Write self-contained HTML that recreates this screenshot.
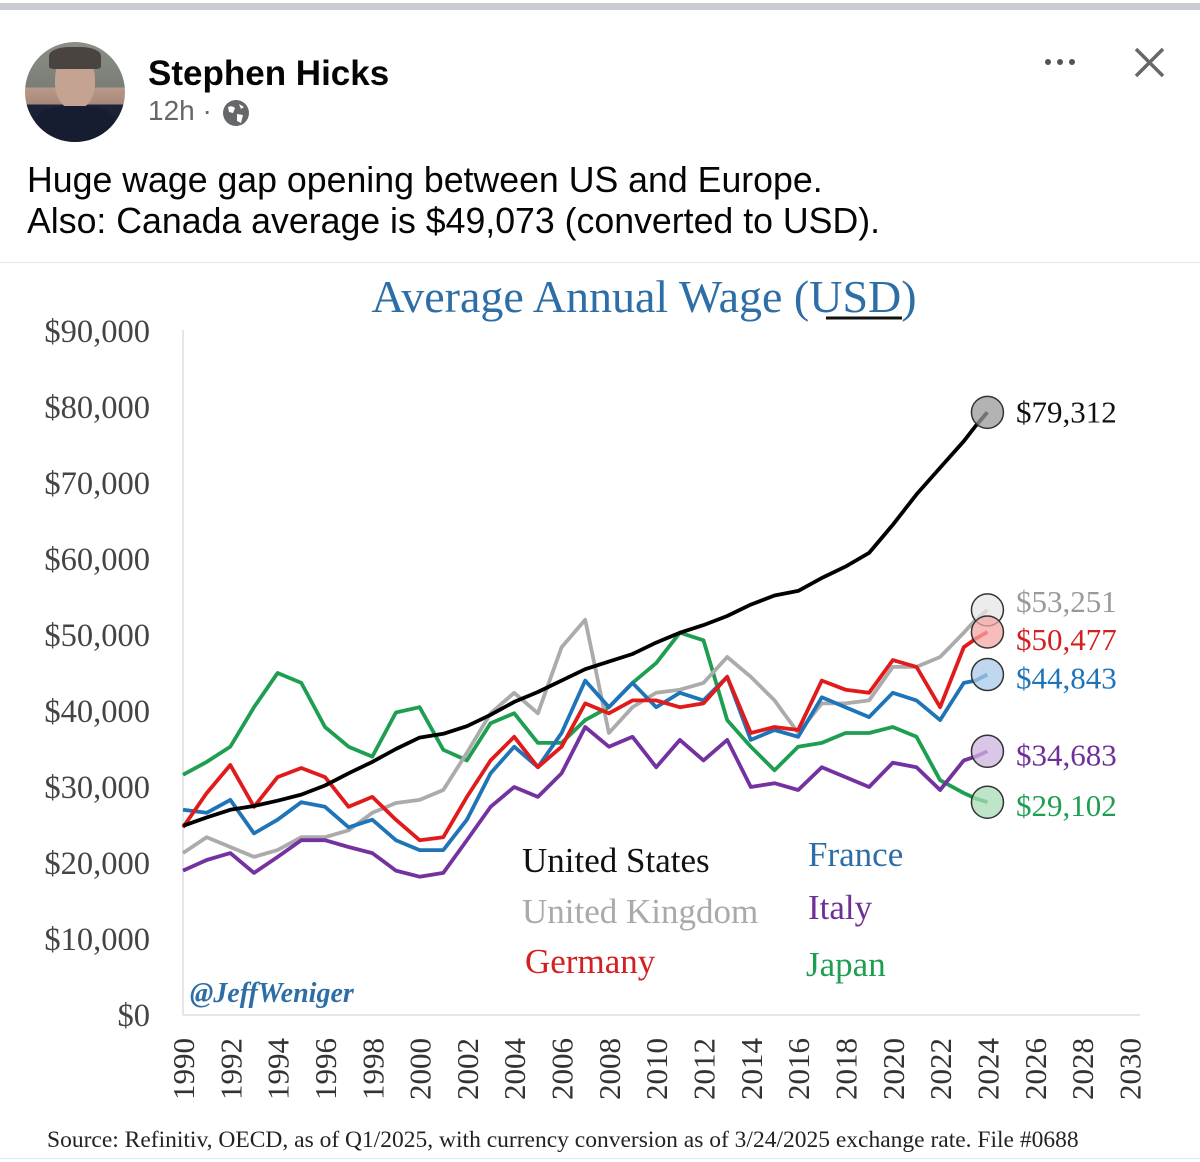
<!DOCTYPE html>
<html><head><meta charset="utf-8">
<style>
html,body{margin:0;padding:0;background:#fff;}
body{width:1200px;height:1162px;position:relative;overflow:hidden;font-family:"Liberation Sans",sans-serif;}
.abs{position:absolute;}
</style></head>
<body>
<div class="abs" style="left:0;top:3px;width:1200px;height:7px;background:#c9ccd1"></div>
<div class="abs" style="left:25px;top:42px;width:100px;height:100px;border-radius:50%;background:linear-gradient(180deg,#8a8f88 0%,#7a7e76 45%,#b99a88 46%,#a8887a 62%,#1d2438 63%,#151b2e 100%);overflow:hidden">
 <div style="position:absolute;left:30px;top:12px;width:40px;height:55px;border-radius:45%;background:#c4a392"></div>
 <div style="position:absolute;left:24px;top:5px;width:52px;height:22px;border-radius:40% 40% 10% 10%;background:#4a4440"></div>
 <div style="position:absolute;left:10px;top:64px;width:80px;height:40px;border-radius:40% 40% 0 0;background:#171d30"></div>
</div>
<div class="abs" style="left:148px;top:54px;font-size:35px;font-weight:bold;color:#050505">Stephen Hicks</div>
<div class="abs" style="left:148px;top:95px;font-size:28px;color:#65676b">12h ·</div>
<svg class="abs" style="left:222px;top:99px" width="28" height="28" viewBox="0 0 28 28"><circle cx="14" cy="14" r="13" fill="#65676b"/><path d="M6 8 Q10 6 13 9 L11 14 L7 13 Z M15 15 L21 16 L19 24 L15 22 Z M17 5 L22 8 L19 10 Z" fill="#fff"/></svg>
<svg class="abs" style="left:1040px;top:55px" width="40" height="14"><circle cx="8" cy="7" r="3" fill="#555"/><circle cx="20" cy="7" r="3" fill="#555"/><circle cx="32" cy="7" r="3" fill="#555"/></svg>
<svg class="abs" style="left:1134px;top:47px" width="31" height="31"><path d="M2 2 L29 29 M29 2 L2 29" stroke="#65676b" stroke-width="3.5"/></svg>
<div class="abs" style="left:27px;top:160px;font-size:35.7px;line-height:41px;color:#050505">Huge wage gap opening between US and Europe.<br>Also: Canada average is $49,073 (converted to USD).</div>
<div class="abs" style="left:0;top:262px;width:1200px;height:1px;background:#e4e6eb"></div>
<div class="abs" style="left:0;top:1158px;width:1200px;height:1px;background:#e4e6eb"></div>

<svg id="chart" class="abs" style="left:0;top:0" width="1200" height="1162" font-family="'Liberation Serif',serif"></svg>

<script>
const years=[1990,1991,1992,1993,1994,1995,1996,1997,1998,1999,2000,2001,2002,2003,2004,2005,2006,2007,2008,2009,2010,2011,2012,2013,2014,2015,2016,2017,2018,2019,2020,2021,2022,2023,2023.5,2024];
const usValues=[24.9,26.0,27.0,27.5,28.2,29.0,30.2,31.8,33.3,35.0,36.5,37.0,38.0,39.5,41.2,42.5,44.0,45.5,46.5,47.5,49.0,50.3,51.3,52.5,54.0,55.2,55.8,57.5,59.0,60.8,64.5,68.5,72.0,75.5,77.5,79.3];
const ukValues=[21.3,23.4,22.1,20.8,21.7,23.4,23.4,24.3,26.6,27.9,28.3,29.6,34.5,39.7,42.4,39.7,48.4,52.0,37.1,40.5,42.4,42.8,43.7,47.1,44.5,41.4,37.1,41.0,41.0,41.4,45.8,45.8,47.1,50.3,52.0,53.3];
const deValues=[24.7,29.2,32.9,27.4,31.3,32.5,31.3,27.4,28.7,25.7,23.0,23.4,28.7,33.5,36.6,32.6,35.3,41.0,39.7,41.4,41.4,40.5,41.0,44.5,37.1,37.9,37.5,44.0,42.8,42.4,46.7,45.8,40.5,48.4,49.5,50.4];
const frValues=[27.0,26.6,28.3,23.9,25.7,28.0,27.4,24.7,25.7,23.0,21.7,21.7,25.7,31.8,35.3,32.6,37.1,44.0,40.5,43.7,40.5,42.4,41.4,44.5,36.2,37.5,36.6,41.8,40.5,39.2,42.4,41.4,38.8,43.7,44.0,44.8];
const itValues=[19.0,20.4,21.3,18.7,20.8,23.0,23.0,22.1,21.3,19.0,18.2,18.7,23.0,27.4,30.0,28.7,31.8,37.9,35.3,36.6,32.6,36.2,33.5,36.2,30.0,30.5,29.6,32.6,31.3,30.0,33.2,32.6,29.6,33.5,34.0,34.7];
const jpValues=[31.6,33.3,35.3,40.5,45.0,43.7,37.9,35.3,34.0,39.8,40.5,34.9,33.5,38.4,39.7,35.8,35.8,38.8,40.5,43.7,46.3,50.3,49.3,38.8,35.3,32.2,35.3,35.8,37.1,37.1,37.9,36.6,30.9,29.2,28.5,28.0];
const yTicks=[0,10000,20000,30000,40000,50000,60000,70000,80000,90000];
const xTicks=[1990,1992,1994,1996,1998,2000,2002,2004,2006,2008,2010,2012,2014,2016,2018,2020,2022,2024,2026,2028,2030];
const endLabels=["$79,312","$53,251","$50,477","$44,843","$34,683","$29,102"];

const svg=document.getElementById('chart');
const NS='http://www.w3.org/2000/svg';
const xS=y=>183+(y-1990)*23.66;
const yS=v=>1015-v/10000*76;
function el(t,a,txt){const e=document.createElementNS(NS,t);for(const k in a)e.setAttribute(k,a[k]);if(txt!=null)e.textContent=txt;svg.appendChild(e);return e;}

let t=el('text',{x:644,y:312,'text-anchor':'middle','font-size':46,fill:'#2e6ea6'},'Average Annual Wage (USD)');


let u=el('line',{x1:826,x2:902,y1:318,y2:318,stroke:'#111','stroke-width':3});



let ax=el('line',{x1:183,x2:183,y1:330,y2:1015,stroke:'#ddd','stroke-width':1.5});


let bx=el('line',{x1:183,x2:1140,y1:1015,y2:1015,stroke:'#ddd','stroke-width':1.5});



yTicks.forEach(v=>{
  const e=el('text',{x:150,y:yS(v)+11,'text-anchor':'end','font-size':32.5,fill:'#444'},'$'+v.toLocaleString('en-US'));
  
  
});
xTicks.forEach(yr=>{
  const x=xS(yr)+11, y=1038;
  const e=el('text',{x:x,y:y,'text-anchor':'end','font-size':31,fill:'#333',transform:`rotate(-90 ${x} ${y})`},String(yr));
  
  
});

const series=[
 {vals:jpValues,color:'#1e9e50',name:'japan-line'},
 {vals:ukValues,color:'#ababab',name:'uk-line'},
 {vals:itValues,color:'#7432a0',name:'italy-line'},
 {vals:frValues,color:'#1f74b8',name:'france-line'},
 {vals:deValues,color:'#e11b1b',name:'germany-line'},
 {vals:usValues,color:'#000',name:'us-line'}
];
series.forEach(s=>{
  const d=s.vals.map((v,i)=>(i?'L':'M')+xS(years[i]).toFixed(1)+' '+yS(v*1000).toFixed(1)).join(' ');
  const p=el('path',{d:d,fill:'none',stroke:s.color,'stroke-width':3.8,'stroke-linejoin':'round'});
  
  
});

const ends=[
 {vals:usValues,fill:'#999',text:'#111',lab:0,name:'us',dy:0},
 {vals:ukValues,fill:'#e6e6e6',text:'#999',lab:1,name:'uk',dy:-8},
 {vals:deValues,fill:'#f4a6a6',text:'#d42020',lab:2,name:'germany',dy:8},
 {vals:frValues,fill:'#a9c9ea',text:'#1f74b8',lab:3,name:'france',dy:4},
 {vals:itValues,fill:'#cdb4e0',text:'#6f2f98',lab:4,name:'italy',dy:4},
 {vals:jpValues,fill:'#a8dcb6',text:'#1e9e50',lab:5,name:'japan',dy:4}
];
ends.forEach(e=>{
  const v=e.vals[e.vals.length-1]*1000;
  const cy=yS(v), cx=xS(years[years.length-1]);
  const c=el('circle',{cx:cx,cy:cy,r:16,fill:e.fill,'fill-opacity':0.75,stroke:'#333','stroke-width':1.5});
  
  
  const tx=el('text',{x:1016,y:cy+10+e.dy,'font-size':31,fill:e.text},endLabels[e.lab]);
  
  
});

const legend=[
 ['United States',522,872,'#111','legend-us'],
 ['United Kingdom',522,923,'#aaa','legend-uk'],
 ['Germany',525,973,'#d42020','legend-germany'],
 ['France',808,866,'#2e6ea6','legend-france'],
 ['Italy',808,919,'#6f2f98','legend-italy'],
 ['Japan',806,976,'#1e9e50','legend-japan']
];
legend.forEach(l=>{
  const e=el('text',{x:l[1],y:l[2],'font-size':35,fill:l[3]},l[0]);
  
  
});
let w=el('text',{x:190,y:1002,'font-size':28,'font-weight':'bold','font-style':'italic',fill:'#2e6ea6'},'@JeffWeniger');


let src=el('text',{x:47,y:1147,'font-size':23.5,fill:'#222'},'Source: Refinitiv, OECD, as of Q1/2025, with currency conversion as of 3/24/2025 exchange rate. File #0688');


</script>
</body></html>
